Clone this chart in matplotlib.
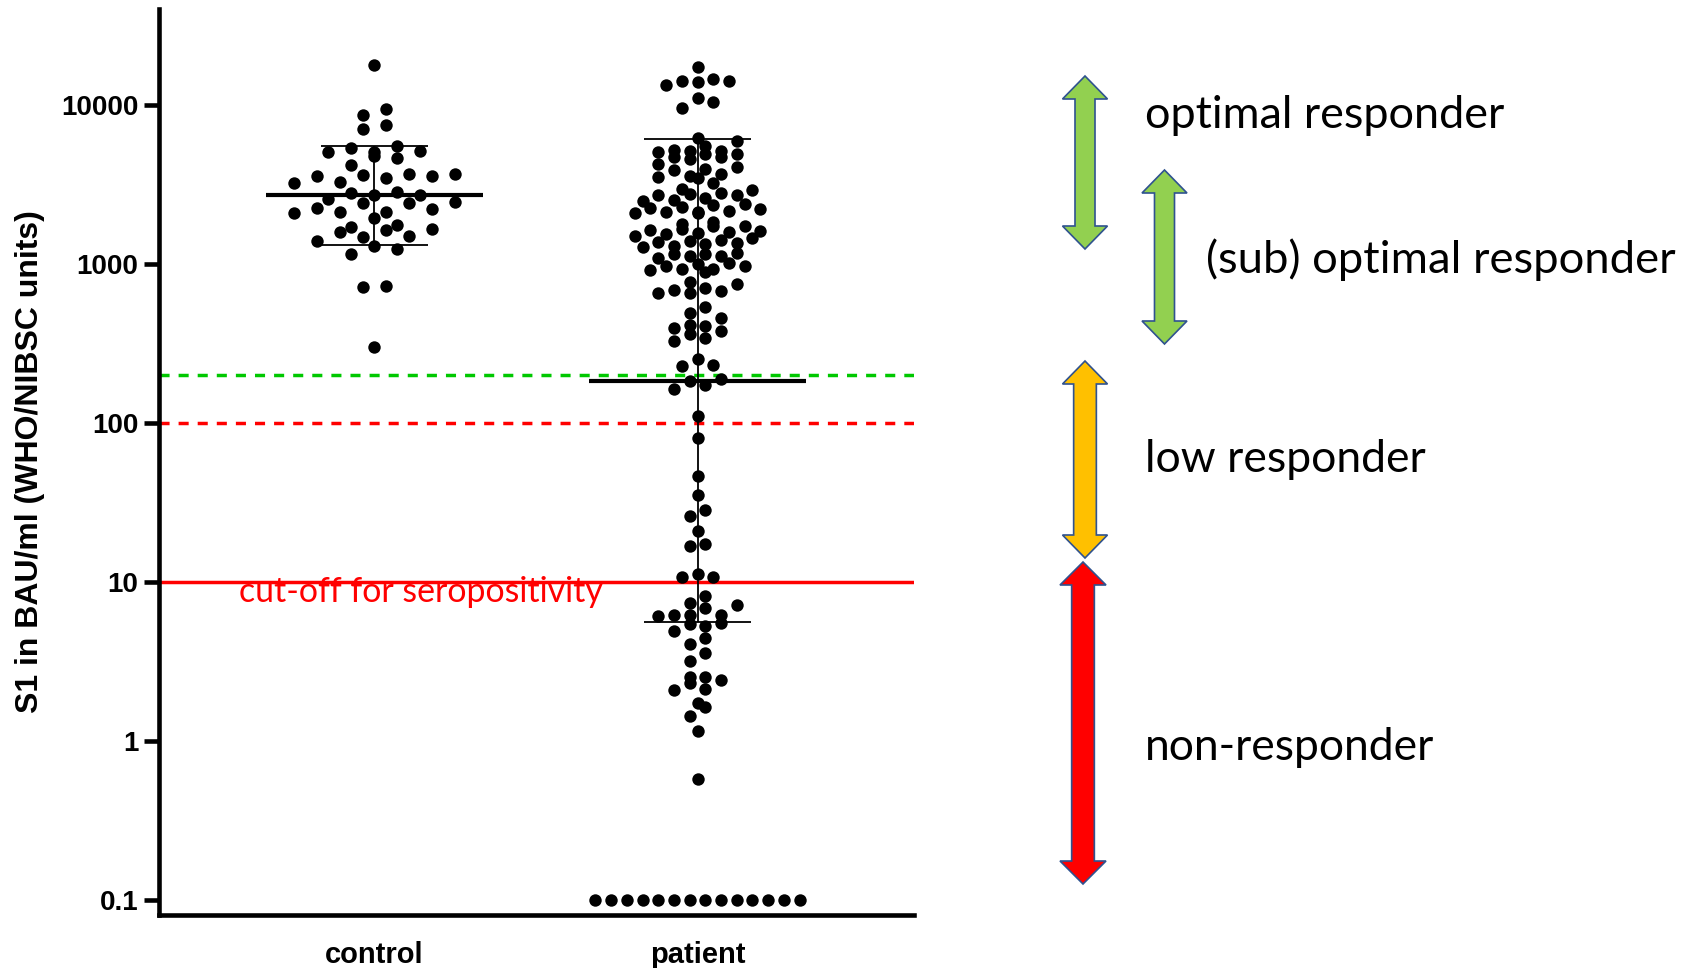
import numpy as np
import matplotlib
matplotlib.use("Agg")
import matplotlib.pyplot as plt
from matplotlib.patches import Polygon
from matplotlib.ticker import NullLocator

# ---- data -----------------------------------------------------------------
groups = ["control", "patient"]

control = [17850, 9440, 8650, 7480, 7070, 5550, 5160, 5040, 5030, 5340,
           4620, 4780, 4190, 3630, 3490, 3580, 3670, 3570, 3660, 3250,
           3290, 2850, 2720, 2710, 2780, 2430, 2550, 2420, 2440, 2100,
           2110, 2210, 2130, 2260, 1940, 1640, 1760, 1650, 1720, 1600,
           1470, 1400, 1500, 1300, 1240, 1150, 727, 714, 302]

patient = [17260, 14160, 14100, 14570, 13360, 14010, 11020, 10400, 9530,
           5940, 6170, 5550, 5160, 5150, 4920, 5210, 4730, 4720, 4580, 4910, 5090,
           4240, 4060, 3900, 3590, 3540, 3460, 3670, 3940, 3220, 2920,
           2960, 2760, 2810, 2720, 2290, 2350, 2380, 2130, 2140, 2210, 2590,
           2500, 2710, 2530, 2150, 2080, 2260, 2090,
           1730, 1420, 1830, 1540, 1300, 1780, 1510, 1280, 1660, 1400, 1610,
           1380, 1600, 1340, 1640, 1350, 1740, 1450, 1570,
           1150, 1130, 1160, 1120, 1090, 1180,
           971, 1010, 917, 926, 976, 930, 895, 1000,
           774, 749, 679, 660, 655, 703, 686,
           534, 490, 456, 413, 398, 409, 379, 363, 329, 344,
           253, 229, 232, 189, 184, 163, 173, 110,
           80.1, 46.4, 35.3, 28.4, 26.0, 21.0, 17.3, 16.8, 11.2, 10.8, 10.7,
           8.2, 7.17, 6.89, 7.41, 6.2, 6.2, 6.15, 6.25,
           5.5, 5.42, 5.29, 4.92, 4.46, 4.06, 3.59, 3.19, 2.42, 2.52, 2.33,
           2.54, 2.12, 2.10, 1.74, 1.64, 1.44, 1.16, 0.577,
           0.1, 0.1, 0.1, 0.1, 0.1, 0.1, 0.1, 0.1, 0.1, 0.1, 0.1, 0.1, 0.1, 0.1]

yticks = [0.1, 1, 10, 100, 1000, 10000]
ytick_labels = ["0.1", "1", "10", "100", "1000", "10000"]

seropositivity_cutoff = 10
low_response_level = 100
optimal_response_level = 200

response_classes = ["optimal responder", "(sub) optimal responder",
                    "low responder", "non-responder"]

# ---- figure & axes ----------------------------------------------------------
W, H = 1683, 968
fig = plt.figure(figsize=(W / 100, H / 100), dpi=100)
ax = fig.add_axes([159 / W, 1 - 915 / H, (914 - 159) / W, (915 - 9) / H])
ax.set_yscale("log")
ax.set_ylim(10 ** -1.094, 10 ** 4.604)
ax.set_xlim(-0.667, 1.670)

for side in ("top", "right"):
    ax.spines[side].set_visible(False)
for side in ("left", "bottom"):
    ax.spines[side].set_linewidth(3.3)

tick_font = dict(family="Liberation Sans", weight="bold")
ax.set_yticks(yticks)
ax.set_yticklabels(ytick_labels, fontdict=dict(size=20, **tick_font))
ax.yaxis.set_minor_locator(NullLocator())
ax.tick_params(axis="y", length=11, width=3.3, pad=4)
ax.set_xticks(range(len(groups)))
ax.set_xticklabels(groups, fontdict=dict(size=21, **tick_font))
ax.tick_params(axis="x", length=0, pad=19)

fig.text(30 / W, 1 - 462 / H, "S1 in BAU/ml (WHO/NIBSC units)", rotation=90,
         ha="center", va="center", fontsize=23, **tick_font)

# reference levels
ax.axhline(optimal_response_level, color="#00C800", lw=2.5,
           linestyle=(0, (2.9, 2.6)), zorder=1)
ax.axhline(low_response_level, color="#FF0000", lw=2.5,
           linestyle=(0, (2.9, 2.6)), zorder=1)
ax.axhline(seropositivity_cutoff, color="#FF0000", lw=2.5, zorder=1)


# ---- column scatter (binned rows, spread horizontally) ----------------------
def row_offsets(values, xpos, spacing_px, row_px):
    vals = np.asarray(values, dtype=float)
    pts = ax.transData.transform(np.column_stack([np.full(len(vals), xpos), vals]))
    ypix = pts[:, 1]
    order = np.argsort(ypix, kind="stable")
    rows, current, start = [], [order[0]], ypix[order[0]]
    for idx in order[1:]:
        if ypix[idx] - start < row_px:
            current.append(idx)
        else:
            rows.append(current)
            current, start = [idx], ypix[idx]
    rows.append(current)
    xpix = pts[:, 0].copy()
    for row in rows:
        n = len(row)
        slots = (np.arange(n) - (n - 1) / 2) * spacing_px
        seq = list(range(0, n, 2)) + list(range(1, n, 2))
        for k, idx in zip(seq, row):
            xpix[idx] += slots[k]
    data = ax.transData.inverted().transform(np.column_stack([xpix, ypix]))
    return data[:, 0], vals


def geo_summary(values):
    logs = np.log10(values)
    m, s = logs.mean(), logs.std(ddof=1)
    return 10 ** m, 10 ** (m - s), 10 ** (m + s)


settings = {"control": (23.0, 12.0), "patient": (15.7, 11.0)}
for i, (name, vals) in enumerate(zip(groups, [control, patient])):
    spacing, rowh = settings[name]
    xs, ys = row_offsets(vals, i, spacing, rowh)
    ax.scatter(xs, ys, s=80, color="black", linewidths=0, zorder=3)
    gm, lo, hi = geo_summary(vals)
    ax.hlines(gm, i - 0.335, i + 0.335, color="black", lw=3.0, zorder=4)
    ax.vlines(i, lo, hi, color="black", lw=1.3, zorder=2)
    ax.hlines([lo, hi], i - 0.166, i + 0.166, color="black", lw=1.3, zorder=2)

# ---- annotation layer (pixel coordinates) ----------------------------------
ov = fig.add_axes([0, 0, 1, 1], facecolor="none")
ov.set_xlim(0, W)
ov.set_ylim(H, 0)
ov.axis("off")


def double_arrow(cx, top, bottom, head_w, shaft_w, head_len, color):
    hw, sw = head_w / 2, shaft_w / 2
    verts = [(cx, top), (cx + hw, top + head_len), (cx + sw, top + head_len),
             (cx + sw, bottom - head_len), (cx + hw, bottom - head_len),
             (cx, bottom), (cx - hw, bottom - head_len), (cx - sw, bottom - head_len),
             (cx - sw, top + head_len), (cx - hw, top + head_len)]
    ov.add_patch(Polygon(verts, closed=True, facecolor=color,
                         edgecolor="#2F528F", lw=1.2))


double_arrow(1085, 76, 249, 45, 20, 23, "#92D050")
double_arrow(1164.5, 170, 344, 45, 20, 23, "#92D050")
double_arrow(1085, 361, 558, 45, 22.7, 23, "#FFC000")
double_arrow(1083, 562, 884, 46, 22.7, 23, "#FF0000")

renderer = fig.canvas.get_renderer()


def fitted_text(x, y, s, width_px, **kw):
    t = ov.text(x, y, s, fontsize=30, ha="left", va="baseline",
                family="Lato", **kw)
    w = t.get_window_extent(renderer).width
    t.set_fontsize(30 * width_px / w)
    return t


fitted_text(1145, 128.5, response_classes[0], 360)
fitted_text(1206, 273, response_classes[1], 469)
fitted_text(1145, 472, response_classes[2], 280)
fitted_text(1145, 760, response_classes[3], 289)
fitted_text(239, 601.5, "cut-off for seropositivity", 364, color="#FF0000")

fig.savefig("out.png", dpi=100)
